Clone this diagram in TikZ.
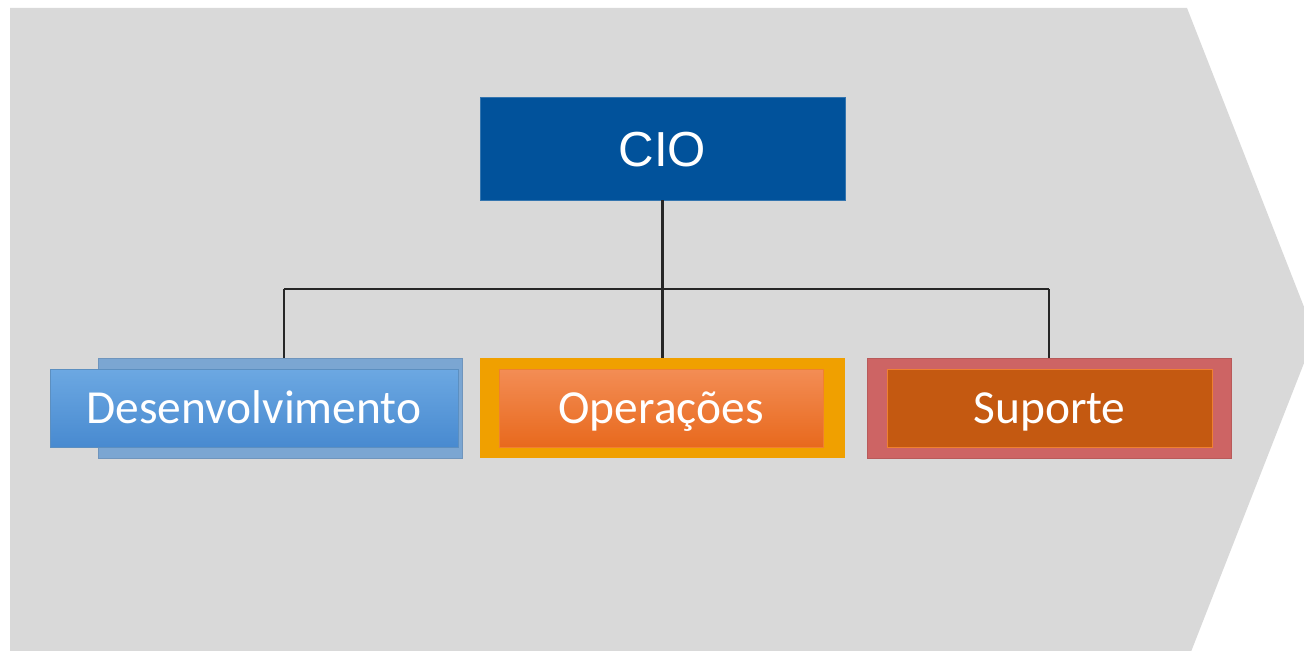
\documentclass[tikz,border=0pt]{standalone}
\usepackage{fontspec}
\newfontfamily\calfont{Carlito}
\newfontfamily\arialfont{Liberation Sans}
\usetikzlibrary{positioning,calc}

\definecolor{bggray}{HTML}{D9D9D9}
\definecolor{wiregray}{HTML}{262626}
\definecolor{cioblue}{HTML}{01529B}
\definecolor{devback}{HTML}{7BA6D2}
\definecolor{devtop}{HTML}{6CA8E2}
\definecolor{devbottom}{HTML}{488AD0}
\definecolor{opsouter}{HTML}{F0A000}
\definecolor{opstop}{HTML}{F38D55}
\definecolor{opsbottom}{HTML}{E8691D}
\definecolor{supouter}{HTML}{CD6464}
\definecolor{supinner}{HTML}{C45911}
\definecolor{thinorange}{HTML}{F08030}

\tikzset{
  outerbox/.style={rectangle, inner sep=0pt, minimum height=2cm},
  innerbox/.style={rectangle, inner sep=0pt, minimum height=1.56cm, text=white,
    font=\calfont\fontsize{27pt}{32pt}\selectfont, text height=17.4pt, text depth=0pt},
  wire/.style={draw=wiregray, line width=1.5pt}
}

\begin{document}
\begin{tikzpicture}[x=0.02cm, y=-0.02cm]
        \useasboundingbox (0,0) rectangle (1304,651);

        % background arrow
        \begin{scope}
        \clip (0,0) rectangle (1304,651);
        \fill[bggray] (10,8) -- (1187,8) -- (1315,335) -- (1187,662) -- (10,662) -- cycle;
        \end{scope}

        % top box
        \node[rectangle, inner sep=0pt, minimum width=7.3cm, minimum height=2.06cm,
          fill=cioblue, draw=cioblue!80!white, text=white,
          font=\arialfont\fontsize{28pt}{32pt}\selectfont, text height=20pt, text depth=0pt]
          (cio) at (662.5,148.5) {CIO};

        % bus line
        \coordinate (busL) at (284,289);
        \coordinate (busR) at (1049,289);

        % the three areas
        \node[outerbox, minimum width=7.28cm, fill=devback, draw=devback!90!black] (devb) at (280,408) {};
        \node[innerbox, minimum width=8.16cm, top color=devtop, bottom color=devbottom,
          draw=devtop!85!black] (dev) at (254,408) {Desenvolvimento};

        \node[outerbox, minimum width=7.3cm, fill=opsouter] (opsb) at (662.5,408) {};
        \node[innerbox, minimum width=6.48cm, top color=opstop, bottom color=opsbottom,
          draw=thinorange] (ops) at (661,408) {Operações};

        \node[outerbox, minimum width=7.28cm, fill=supouter, draw=supouter!90!black] (supb) at (1049,408) {};
        \node[innerbox, minimum width=6.5cm, fill=supinner, draw=thinorange] (sup) at (1049.5,408) {Suporte};

        % connectors
        \draw[wire] (cio.south) -- (cio.south |- busL);
        \draw[wire] (busL) -- (busR);
        \draw[wire] (busL) -- (busL |- devb.north);
        \draw[wire] (cio.south |- busL) -- (opsb.north);
        \draw[wire] (busR) -- (supb.north);

    \end{tikzpicture}
\end{document}
